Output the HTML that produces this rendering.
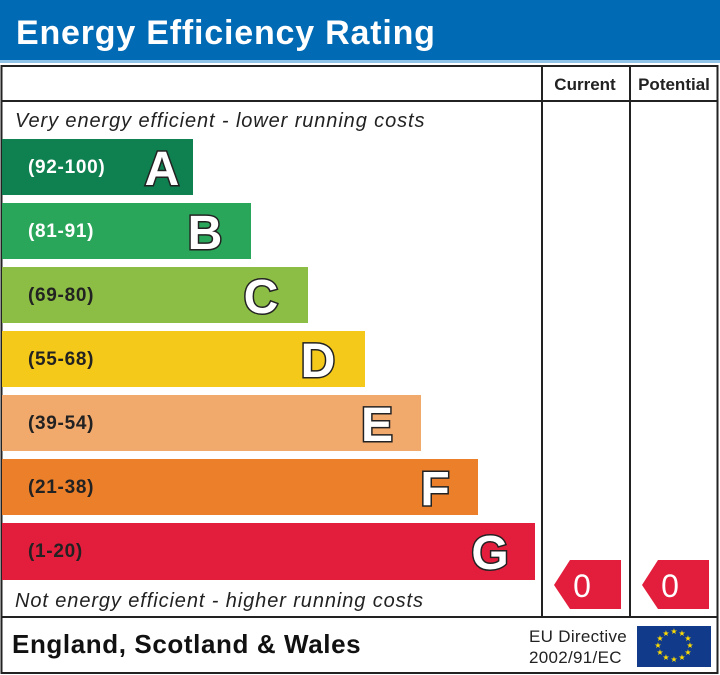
<!DOCTYPE html>
<html><head><style>body{margin:0;background:#fff}svg{display:block}</style></head><body>
<svg width="720" height="675" viewBox="0 0 720 675" xmlns="http://www.w3.org/2000/svg" font-family="Liberation Sans, sans-serif">
<rect x="0" y="0" width="720" height="60" fill="#006ab4"/>
<rect x="0" y="60" width="720" height="3" fill="#8fc3e8"/>
<text x="16" y="44" font-size="34" font-weight="bold" fill="#fff" letter-spacing="0.8">Energy Efficiency Rating</text>
<rect x="1.5" y="66" width="716" height="607" fill="none" stroke="#222" stroke-width="2"/>
<line x1="1" y1="101" x2="718" y2="101" stroke="#222" stroke-width="2"/>
<line x1="542" y1="66" x2="542" y2="617" stroke="#222" stroke-width="2"/>
<line x1="630" y1="66" x2="630" y2="617" stroke="#222" stroke-width="2"/>
<line x1="1" y1="617" x2="718" y2="617" stroke="#222" stroke-width="2"/>
<text x="585" y="90" font-size="17" font-weight="bold" text-anchor="middle" fill="#222">Current</text>
<text x="674" y="90" font-size="17" font-weight="bold" text-anchor="middle" fill="#222">Potential</text>
<text x="15" y="127" font-size="20" font-style="italic" fill="#222" letter-spacing="0.9">Very energy efficient - lower running costs</text>
<text x="15" y="607" font-size="20" font-style="italic" fill="#222" letter-spacing="0.9">Not energy efficient - higher running costs</text>
<g font-weight="bold">
<rect x="2" y="139" width="191" height="56" fill="#0f8050"/>
<rect x="2" y="203" width="249" height="56" fill="#2aa65a"/>
<rect x="2" y="267" width="306" height="56" fill="#8cbd44"/>
<rect x="2" y="331" width="363" height="56" fill="#f5c91a"/>
<rect x="2" y="395" width="419" height="56" fill="#f2a96c"/>
<rect x="2" y="459" width="476" height="56" fill="#ec7f2a"/>
<rect x="2" y="523" width="533" height="57" fill="#e31d3c"/>
<g font-size="19" letter-spacing="0.7">
<text x="28" y="173" fill="#fff">(92-100)</text>
<text x="28" y="237" fill="#fff">(81-91)</text>
<text x="28" y="301" fill="#222">(69-80)</text>
<text x="28" y="365" fill="#222">(55-68)</text>
<text x="28" y="429" fill="#222">(39-54)</text>
<text x="28" y="493" fill="#222">(21-38)</text>
<text x="28" y="557" fill="#222">(1-20)</text>
</g>
<g font-size="48" text-anchor="middle" fill="#fff" stroke="#222" stroke-width="3" paint-order="stroke">
<text x="162" y="185">A</text>
<text x="205" y="249">B</text>
<text x="261" y="313">C</text>
<text x="318" y="377">D</text>
<text x="377" y="441">E</text>
<text x="435" y="505">F</text>
<text x="490" y="569">G</text>
</g>
</g>
<polygon points="554,585 570,560 621,560 621,609 570,609" fill="#e31d3c"/>
<text x="582" y="597" font-size="32" text-anchor="middle" fill="#fff">0</text>
<polygon points="642,585 658,560 709,560 709,609 658,609" fill="#e31d3c"/>
<text x="670" y="597" font-size="32" text-anchor="middle" fill="#fff">0</text>
<text x="12" y="653" font-size="26" font-weight="bold" fill="#111" letter-spacing="0.6">England, Scotland &amp; Wales</text>
<text x="529" y="642" font-size="17" fill="#222" letter-spacing="0.3">EU Directive</text>
<text x="529" y="663" font-size="17" fill="#222" letter-spacing="0.3">2002/91/EC</text>
<rect x="637" y="626" width="74" height="41" fill="#113a8a"/>
<g fill="#ffdd00" font-size="8" text-anchor="middle">
<text x="674" y="634">★</text><text x="682" y="636">★</text><text x="688" y="641">★</text><text x="690" y="648">★</text><text x="688" y="655">★</text><text x="682" y="660">★</text><text x="674" y="662">★</text><text x="666" y="660">★</text><text x="660" y="655">★</text><text x="658" y="648">★</text><text x="660" y="641">★</text><text x="666" y="636">★</text>
</g>
</svg>
</body></html>
